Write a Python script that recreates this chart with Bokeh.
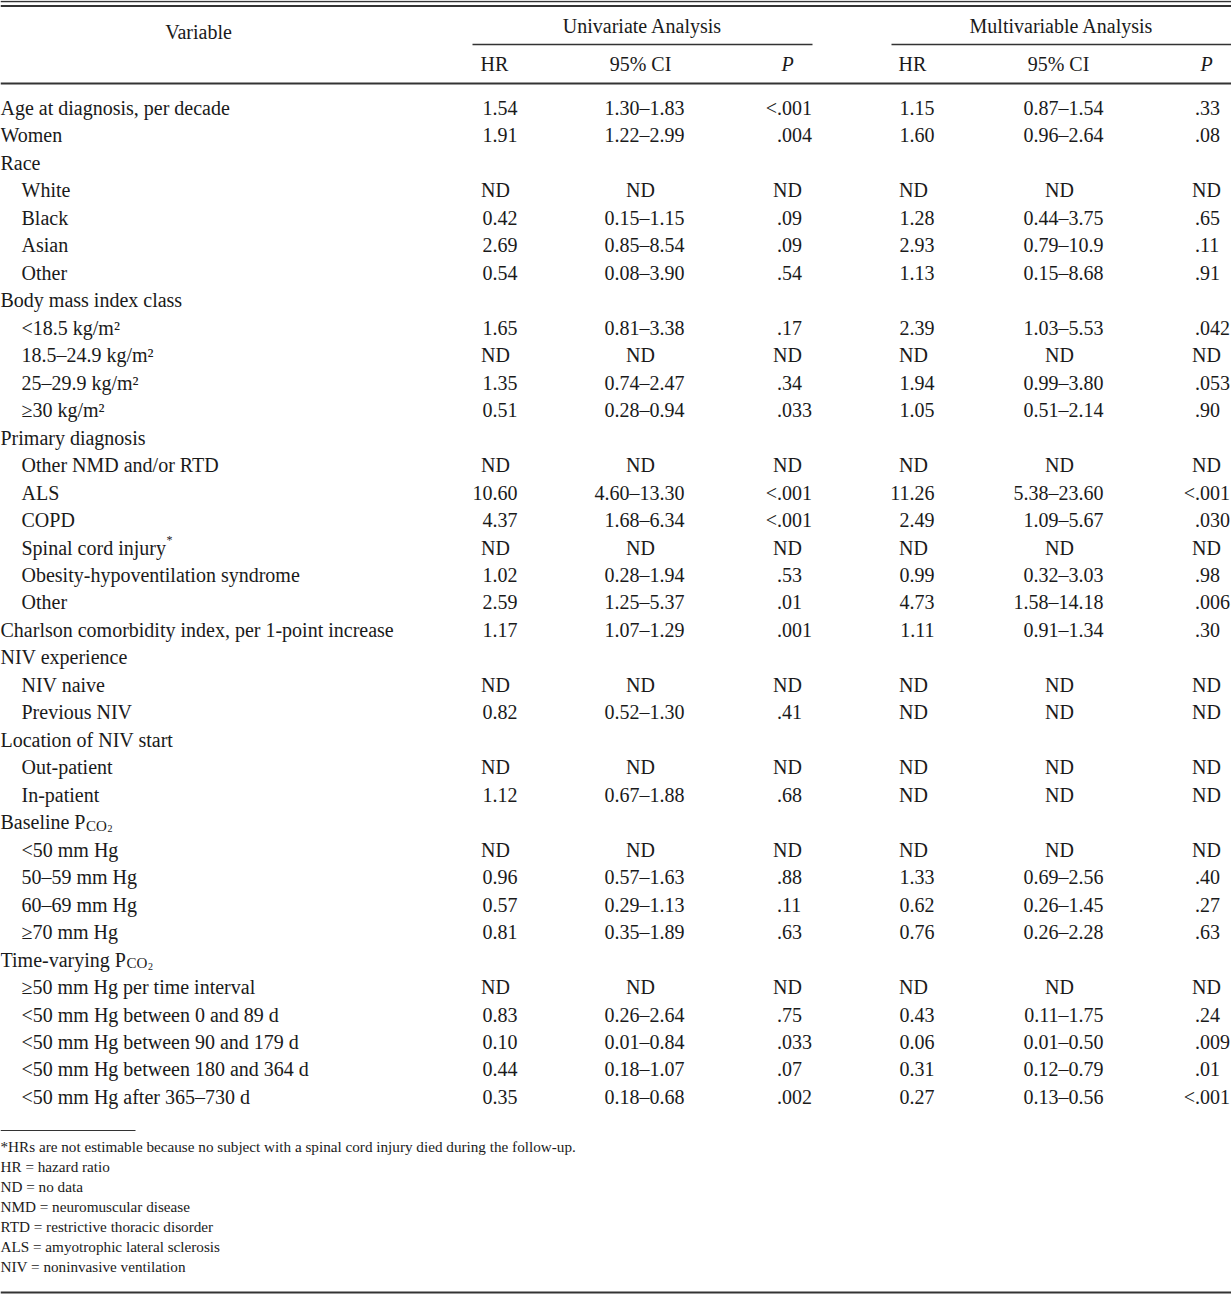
from bokeh.plotting import figure
from bokeh.models import Range1d, ColumnDataSource
from bokeh.core.properties import value
from bokeh.embed import file_html
from bokeh.resources import INLINE

# ---------------- data ----------------
variables = [
    "Age at diagnosis, per decade", "Women", "Race", "White", "Black", "Asian", "Other",
    "Body mass index class", "<18.5 kg/m²", "18.5–24.9 kg/m²", "25–29.9 kg/m²", "≥30 kg/m²",
    "Primary diagnosis", "Other NMD and/or RTD", "ALS", "COPD", "Spinal cord injury",
    "Obesity-hypoventilation syndrome", "Other",
    "Charlson comorbidity index, per 1-point increase",
    "NIV experience", "NIV naive", "Previous NIV",
    "Location of NIV start", "Out-patient", "In-patient",
    "Baseline P", "<50 mm Hg", "50–59 mm Hg", "60–69 mm Hg", "≥70 mm Hg",
    "Time-varying P", "≥50 mm Hg per time interval", "<50 mm Hg between 0 and 89 d",
    "<50 mm Hg between 90 and 179 d", "<50 mm Hg between 180 and 364 d",
    "<50 mm Hg after 365–730 d",
]
indent = [0, 0, 0, 1, 1, 1, 1, 0, 1, 1, 1, 1, 0, 1, 1, 1, 1, 1, 1, 0, 0, 1, 1, 0, 1, 1,
          0, 1, 1, 1, 1, 0, 1, 1, 1, 1, 1]

uni_hr = ["1.54", "1.91", "", "ND", "0.42", "2.69", "0.54", "", "1.65", "ND", "1.35", "0.51",
          "", "ND", "10.60", "4.37", "ND", "1.02", "2.59", "1.17", "", "ND", "0.82", "", "ND",
          "1.12", "", "ND", "0.96", "0.57", "0.81", "", "ND", "0.83", "0.10", "0.44", "0.35"]
uni_ci = ["1.30–1.83", "1.22–2.99", "", "ND", "0.15–1.15", "0.85–8.54", "0.08–3.90", "",
          "0.81–3.38", "ND", "0.74–2.47", "0.28–0.94", "", "ND", "4.60–13.30", "1.68–6.34",
          "ND", "0.28–1.94", "1.25–5.37", "1.07–1.29", "", "ND", "0.52–1.30", "", "ND",
          "0.67–1.88", "", "ND", "0.57–1.63", "0.29–1.13", "0.35–1.89", "", "ND",
          "0.26–2.64", "0.01–0.84", "0.18–1.07", "0.18–0.68"]
uni_p = ["<.001", ".004", "", "ND", ".09", ".09", ".54", "", ".17", "ND", ".34", ".033", "",
         "ND", "<.001", "<.001", "ND", ".53", ".01", ".001", "", "ND", ".41", "", "ND", ".68",
         "", "ND", ".88", ".11", ".63", "", "ND", ".75", ".033", ".07", ".002"]
multi_hr = ["1.15", "1.60", "", "ND", "1.28", "2.93", "1.13", "", "2.39", "ND", "1.94", "1.05",
            "", "ND", "11.26", "2.49", "ND", "0.99", "4.73", "1.11", "", "ND", "ND", "", "ND",
            "ND", "", "ND", "1.33", "0.62", "0.76", "", "ND", "0.43", "0.06", "0.31", "0.27"]
multi_ci = ["0.87–1.54", "0.96–2.64", "", "ND", "0.44–3.75", "0.79–10.9", "0.15–8.68", "",
            "1.03–5.53", "ND", "0.99–3.80", "0.51–2.14", "", "ND", "5.38–23.60", "1.09–5.67",
            "ND", "0.32–3.03", "1.58–14.18", "0.91–1.34", "", "ND", "ND", "", "ND", "ND", "",
            "ND", "0.69–2.56", "0.26–1.45", "0.26–2.28", "", "ND", "0.11–1.75", "0.01–0.50",
            "0.12–0.79", "0.13–0.56"]
multi_p = [".33", ".08", "", "ND", ".65", ".11", ".91", "", ".042", "ND", ".053", ".90", "",
           "ND", "<.001", ".030", "ND", ".98", ".006", ".30", "", "ND", "ND", "", "ND", "ND",
           "", "ND", ".40", ".27", ".63", "", "ND", ".24", ".009", ".01", "<.001"]

group_titles = ["Univariate Analysis", "Multivariable Analysis"]
sub_headers = ["HR", "95% CI"]
p_header = "P"

footnotes = [
    "*HRs are not estimable because no subject with a spinal cord injury died during the follow-up.",
    "HR = hazard ratio",
    "ND = no data",
    "NMD = neuromuscular disease",
    "RTD = restrictive thoracic disorder",
    "ALS = amyotrophic lateral sclerosis",
    "NIV = noninvasive ventilation",
]

# ---------------- layout ----------------
FONT = value("Liberation Serif")
FS = "20px"
FS_FOOT = "15.2px"
INK = "#1a1a1a"
W, H = 1231, 1294
ROW0, ROWH = 107.5, 27.47   # baseline of first row, row pitch
IND = 21

p = figure(width=W, height=H, x_range=Range1d(0, W), y_range=Range1d(H, 0),
           output_backend="svg", toolbar_location=None, min_border=0,
           x_axis_location=None, y_axis_location=None)
p.grid.visible = False
p.outline_line_color = None
p.background_fill_color = "white"
p.border_fill_color = "white"

n = len(variables)
ys = [ROW0 + ROWH * i for i in range(n)]


def txt(xs, yv, texts, align="left", size=FS, style="normal"):
    src = ColumnDataSource(dict(x=xs, y=yv, t=texts))
    p.text(x="x", y="y", text="t", source=src, text_font=FONT, text_font_size=size,
           text_align=align, text_baseline="alphabetic", text_color=INK,
           text_font_style=style)


# variable labels
txt([IND * k for k in indent], ys, variables)
# sub/superscripts in labels
i_sp = variables.index("Spinal cord injury")
txt([166], [ys[i_sp] - 8], ["*"], size="12px")
for lab, xo in (("Baseline P", 85.5), ("Time-varying P", 126)):
    i = variables.index(lab)
    txt([xo], [ys[i] + 3.5], ["CO"], size="15px")
    txt([xo + 21.5], [ys[i] + 6.5], ["2"], size="10px")


def num_col(vals, x_right, x_nd):
    rows = [(v, y) for v, y in zip(vals, ys) if v and v != "ND"]
    nds = [(v, y) for v, y in zip(vals, ys) if v == "ND"]
    txt([x_right] * len(rows), [y for _, y in rows], [v for v, _ in rows], align="right")
    txt([x_nd] * len(nds), [y for _, y in nds], [v for v, _ in nds], align="center")


def p_col(vals, x_dec, x_nd):
    rows = [(v, y) for v, y in zip(vals, ys) if v and v != "ND"]
    nds = [(v, y) for v, y in zip(vals, ys) if v == "ND"]
    pre = [(v.split(".")[0], y) for v, y in rows if v.split(".")[0]]
    txt([x_dec] * len(rows), [y for _, y in rows], ["." + v.split(".", 1)[1] for v, _ in rows])
    txt([x_dec] * len(pre), [y for _, y in pre], [v for v, _ in pre], align="right")
    txt([x_nd] * len(nds), [y for _, y in nds], [v for v, _ in nds], align="center")


num_col(uni_hr, 517, 495)
num_col(uni_ci, 684, 640)
p_col(uni_p, 776.5, 787)
num_col(multi_hr, 934, 913)
num_col(multi_ci, 1103, 1059)
p_col(multi_p, 1194.5, 1206)

# headers
txt([198], [31.5], ["Variable"], align="center")
txt([642, 1061], [25.5, 25.5], group_titles, align="center")
txt([494, 640, 912, 1058], [63.5] * 4, sub_headers * 2, align="center")
txt([787, 1206], [63.5, 63.5], [p_header, p_header], align="center", style="italic")

# footnotes
fy = [1145.5 + 20 * i for i in range(len(footnotes))]
txt([0] * len(footnotes), fy, footnotes, size=FS_FOOT)

# rules
p.segment(x0=[0, 0, 0, 0], y0=[1, 5.5, 83, 1292], x1=[W, W, W, W], y1=[1, 5.5, 83, 1292],
          line_color="#333333", line_width=[1.3, 1.8, 1.8, 2.0])
p.segment(x0=[472, 891], y0=[44, 44], x1=[812, W], y1=[44, 44],
          line_color="#333333", line_width=1.6)
p.segment(x0=[0], y0=[1130], x1=[135], y1=[1130], line_color="#333333", line_width=1.0)

open("out.html", "w").write(file_html(p, INLINE))
